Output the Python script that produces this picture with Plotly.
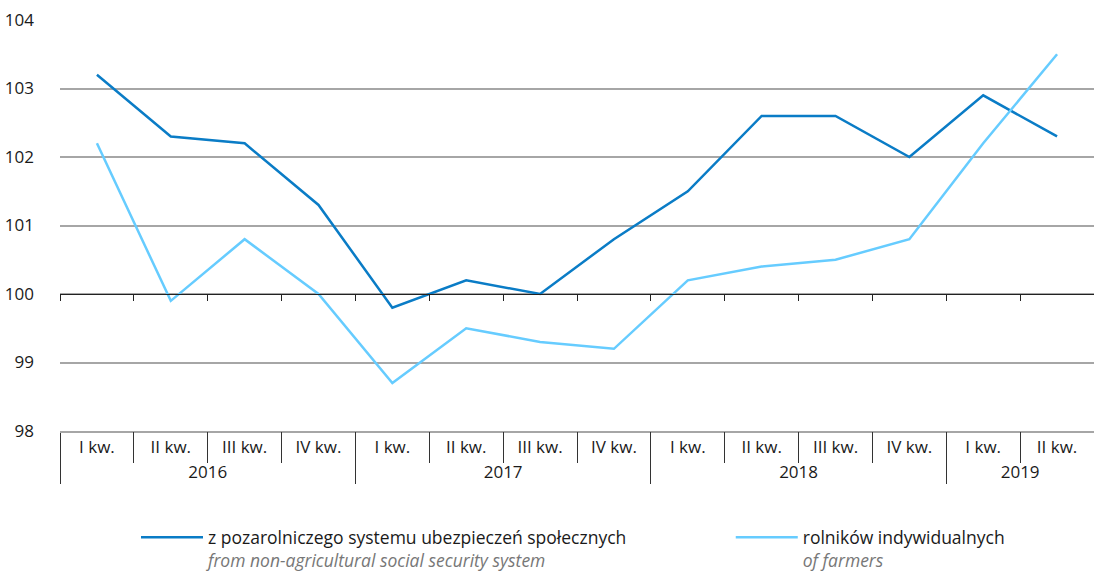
import plotly.graph_objects as go

years = ["2016"] * 4 + ["2017"] * 4 + ["2018"] * 4 + ["2019"] * 2
quarters = ["I kw.", "II kw.", "III kw.", "IV kw."] * 3 + ["I kw.", "II kw."]
non_agri = [103.2, 102.3, 102.2, 101.3, 99.8, 100.2, 100.0, 100.8, 101.5, 102.6, 102.6, 102.0, 102.9, 102.3]
farmers = [102.2, 99.9, 100.8, 100.0, 98.7, 99.5, 99.3, 99.2, 100.2, 100.4, 100.5, 100.8, 102.2, 103.5]
y_ticks = [98, 99, 100, 101, 102, 103, 104]
name_non_agri = "z pozarolniczego systemu ubezpieczeń społecznych"
name_non_agri_en = "from non-agricultural social security system"
name_farmers = "rolników indywidualnych"
name_farmers_en = "of farmers"

FONT = "Open Sans"
n = len(quarters)
boundaries = [i - 0.5 for i in range(n + 1)]

fig = go.Figure()
fig.add_trace(go.Scatter(
    x=[years, quarters], y=non_agri, mode="lines",
    line=dict(color="#0a7cc6", width=2.5),
    name=f"{name_non_agri}<br><i><span style='color:#777'>{name_non_agri_en}</span></i>",
    legend="legend",
))
fig.add_trace(go.Scatter(
    x=[years, quarters], y=farmers, mode="lines",
    line=dict(color="#66ccff", width=2.5),
    name=f"{name_farmers}<br><i><span style='color:#777'>{name_farmers_en}</span></i>",
    legend="legend2",
))
# helper traces so the overlay axes are drawn
fig.add_trace(go.Scatter(x=[0], y=[100], mode="lines", xaxis="x2", showlegend=False, hoverinfo="skip"))
fig.add_trace(go.Scatter(x=[0], y=[100], mode="lines", xaxis="x3", showlegend=False, hoverinfo="skip"))

legend_common = dict(
    orientation="h", yanchor="top", y=-0.215, valign="top",
    font=dict(family=FONT, size=17.5, color="#1a1a1a"),
    itemwidth=62, bgcolor="rgba(0,0,0,0)",
)

fig.update_layout(
    width=1094, height=572,
    margin=dict(l=60, r=0, t=20, b=141, autoexpand=False),
    plot_bgcolor="white", paper_bgcolor="white",
    font=dict(family=FONT, size=17, color="#1a1a1a"),
    showlegend=True,
    legend=dict(x=0.0735, xanchor="left", **legend_common),
    legend2=dict(x=0.6487, xanchor="left", **legend_common),
    yaxis=dict(
        range=[98, 104], tickvals=y_ticks, showgrid=True, gridcolor="#a6a6a6", gridwidth=1.5,
        zeroline=False, showline=False, ticks="", ticklabelstandoff=25, automargin=False,
        tickfont=dict(size=17, color="#1a1a1a"),
    ),
    xaxis=dict(
        type="multicategory", range=[-0.5, n - 0.5], showgrid=False, zeroline=False,
        showline=True, linecolor="#a6a6a6", linewidth=1.5, ticks="", automargin=False,
        showdividers=True, dividercolor="#333333", dividerwidth=1,
        tickfont=dict(size=17, color="#1a1a1a"),
    ),
    xaxis2=dict(
        overlaying="x", anchor="free", position=(100 - 98) / (104 - 98),
        range=[-0.5, n - 0.5], tickvals=boundaries, ticks="outside", ticklen=6,
        tickcolor="#222222", tickwidth=1, showticklabels=False, showgrid=False, automargin=False,
        zeroline=False, showline=True, linecolor="#222222", linewidth=1.2,
    ),
    xaxis3=dict(
        overlaying="x", anchor="y", side="bottom",
        range=[-0.5, n - 0.5], tickvals=boundaries[1:-1], ticks="outside", ticklen=31,
        tickcolor="#333333", tickwidth=1, showticklabels=False, showgrid=False, automargin=False,
        zeroline=False, showline=False,
    ),
)

fig.write_html(
    "out.html",
    config={"displayModeBar": False},
    post_script="document.body.style.margin='0';document.body.style.overflow='hidden';",
)
